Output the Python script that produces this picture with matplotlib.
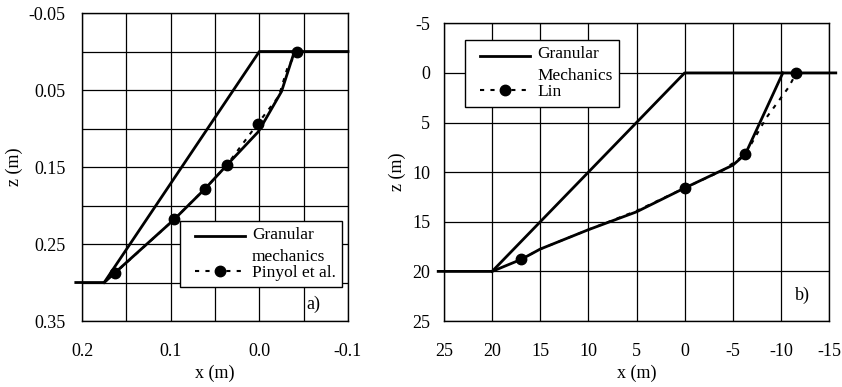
import matplotlib
matplotlib.use("Agg")
import matplotlib.pyplot as plt
from matplotlib.ticker import MultipleLocator, FormatStrFormatter
from matplotlib.legend_handler import HandlerLine2D

plt.rcParams['font.family'] = ['Liberation Serif', 'DejaVu Serif']
plt.rcParams['axes.unicode_minus'] = False
plt.rcParams['font.size'] = 13

# ---------------- Panel a) data ----------------
a_slope_x = [-0.1, 0.0, 0.175, 0.207]
a_slope_z = [0.0, 0.0, 0.30, 0.30]
a_gm_x = [0.175, 0.096, 0.061, 0.037, 0.001, -0.025, -0.039, -0.042]
a_gm_z = [0.30, 0.218, 0.178, 0.148, 0.104, 0.052, 0.002, 0.0]
a_pin_x = [0.175, 0.163, 0.096, 0.061, 0.037, 0.002, -0.022, -0.032, -0.043]
a_pin_z = [0.30, 0.288, 0.218, 0.178, 0.148, 0.094, 0.058, 0.020, 0.0]
a_pin_marks = [1, 2, 3, 4, 5, 8]

# ---------------- Panel b) data ----------------
b_slope_x = [-15.7, 0.0, 20.0, 25.6]
b_slope_z = [0.0, 0.0, 20.0, 20.0]
b_gm_x = [20.0, 17.0, 15.0, 10.0, 5.0, 0.0, -5.0, -6.3, -10.2]
b_gm_z = [20.0, 18.8, 17.75, 15.8, 14.0, 11.6, 9.3, 8.2, 0.0]
b_lin_x = [17.0, 15.0, 10.0, 5.0, 0.0, -4.0, -6.3, -8.5, -10.8, -11.6]
b_lin_z = [18.8, 17.75, 15.8, 13.9, 11.6, 9.8, 8.2, 4.5, 1.45, 0.0]
b_lin_marks = [0, 4, 6, 9]


class ShiftHandler(HandlerLine2D):
    def __init__(self, dx=0.0, dy=0.0, **kw):
        super().__init__(**kw)
        self.dx = dx
        self.dy = dy

    def create_artists(self, legend, orig_handle, xdescent, ydescent,
                       width, height, fontsize, trans):
        return super().create_artists(legend, orig_handle, xdescent - self.dx,
                                      ydescent - 2 * self.dy, width - self.dx,
                                      height, fontsize, trans)


fig = plt.figure(figsize=(8.42, 3.87), dpi=100)
ax1 = fig.add_axes([0.0974, 0.1705, 0.3159, 0.7959])
ax2 = fig.add_axes([0.5273, 0.1705, 0.4573, 0.7693])

lw = 2.0
ms = 7.5
dash = (0, (2, 3))


def make_legend(ax, h_gm, h_dash, loc, anchor):
    leg = ax.legend([h_gm, h_dash], [h_gm.get_label(), h_dash.get_label()],
                    loc=loc, bbox_to_anchor=anchor, frameon=True,
                    fancybox=False, edgecolor='black', framealpha=1,
                    fontsize=12.5, handlelength=3.4, labelspacing=0.0,
                    borderpad=0.35, handletextpad=0.4, borderaxespad=0,
                    handler_map={h_gm: ShiftHandler(dx=6.5, dy=7.0),
                                 h_dash: ShiftHandler(dx=6.5, dy=0.0)})
    leg.get_frame().set_linewidth(1.0)
    leg.get_texts()[0].set_linespacing(1.5)
    return leg


# Panel a
l1, = ax1.plot(a_slope_x, a_slope_z, color='black', lw=lw, clip_on=False, zorder=3,
               label='Granular\nmechanics')
ax1.plot(a_gm_x, a_gm_z, color='black', lw=lw, clip_on=False, zorder=3)
l2, = ax1.plot(a_pin_x, a_pin_z, color='black', lw=1.5, ls=dash, marker='o',
               ms=ms, markevery=a_pin_marks, clip_on=False, zorder=4,
               label='Pinyol et al.')
ax1.set_xlim(0.2, -0.1)
ax1.set_ylim(0.35, -0.05)
ax1.xaxis.set_major_locator(MultipleLocator(0.1))
ax1.xaxis.set_minor_locator(MultipleLocator(0.05))
ax1.yaxis.set_major_locator(MultipleLocator(0.1, offset=0.05))
ax1.yaxis.set_minor_locator(MultipleLocator(0.05))
ax1.xaxis.set_major_formatter(FormatStrFormatter('%.1f'))
ax1.yaxis.set_major_formatter(FormatStrFormatter('%.2f'))
ax1.set_xlabel('x (m)', labelpad=3)
ax1.set_ylabel('z (m)', labelpad=4)
ax1.text(0.87, 0.055, 'a)', transform=ax1.transAxes, ha='center', va='center')
make_legend(ax1, l1, l2, 'lower right', (0.977, 0.11))

# Panel b
m1, = ax2.plot(b_slope_x, b_slope_z, color='black', lw=lw, clip_on=False, zorder=3,
               label='Granular\nMechanics')
ax2.plot(b_gm_x, b_gm_z, color='black', lw=lw, clip_on=False, zorder=3)
m2, = ax2.plot(b_lin_x, b_lin_z, color='black', lw=1.5, ls=dash, marker='o',
               ms=ms, markevery=b_lin_marks, clip_on=False, zorder=4, label='Lin')
ax2.set_xlim(25, -15)
ax2.set_ylim(25, -5)
ax2.xaxis.set_major_locator(MultipleLocator(5))
ax2.yaxis.set_major_locator(MultipleLocator(5))
ax2.xaxis.set_major_formatter(FormatStrFormatter('%d'))
ax2.yaxis.set_major_formatter(FormatStrFormatter('%d'))
ax2.set_xlabel('x (m)', labelpad=3)
ax2.set_ylabel('z (m)', labelpad=4)
ax2.text(0.932, 0.087, 'b)', transform=ax2.transAxes, ha='center', va='center')
make_legend(ax2, m1, m2, 'upper left', (0.055, 0.943))

for ax in (ax1, ax2):
    ax.grid(True, which='both', color='black', lw=0.9)
    ax.set_axisbelow(True)
    ax.tick_params(which='both', length=0)
    ax.tick_params(axis='x', pad=16)
    for s in ax.spines.values():
        s.set_linewidth(1.0)
        s.set_color('black')
ax1.tick_params(axis='y', pad=12)
ax2.tick_params(axis='y', pad=10)

fig.savefig('out.png', dpi=100)
